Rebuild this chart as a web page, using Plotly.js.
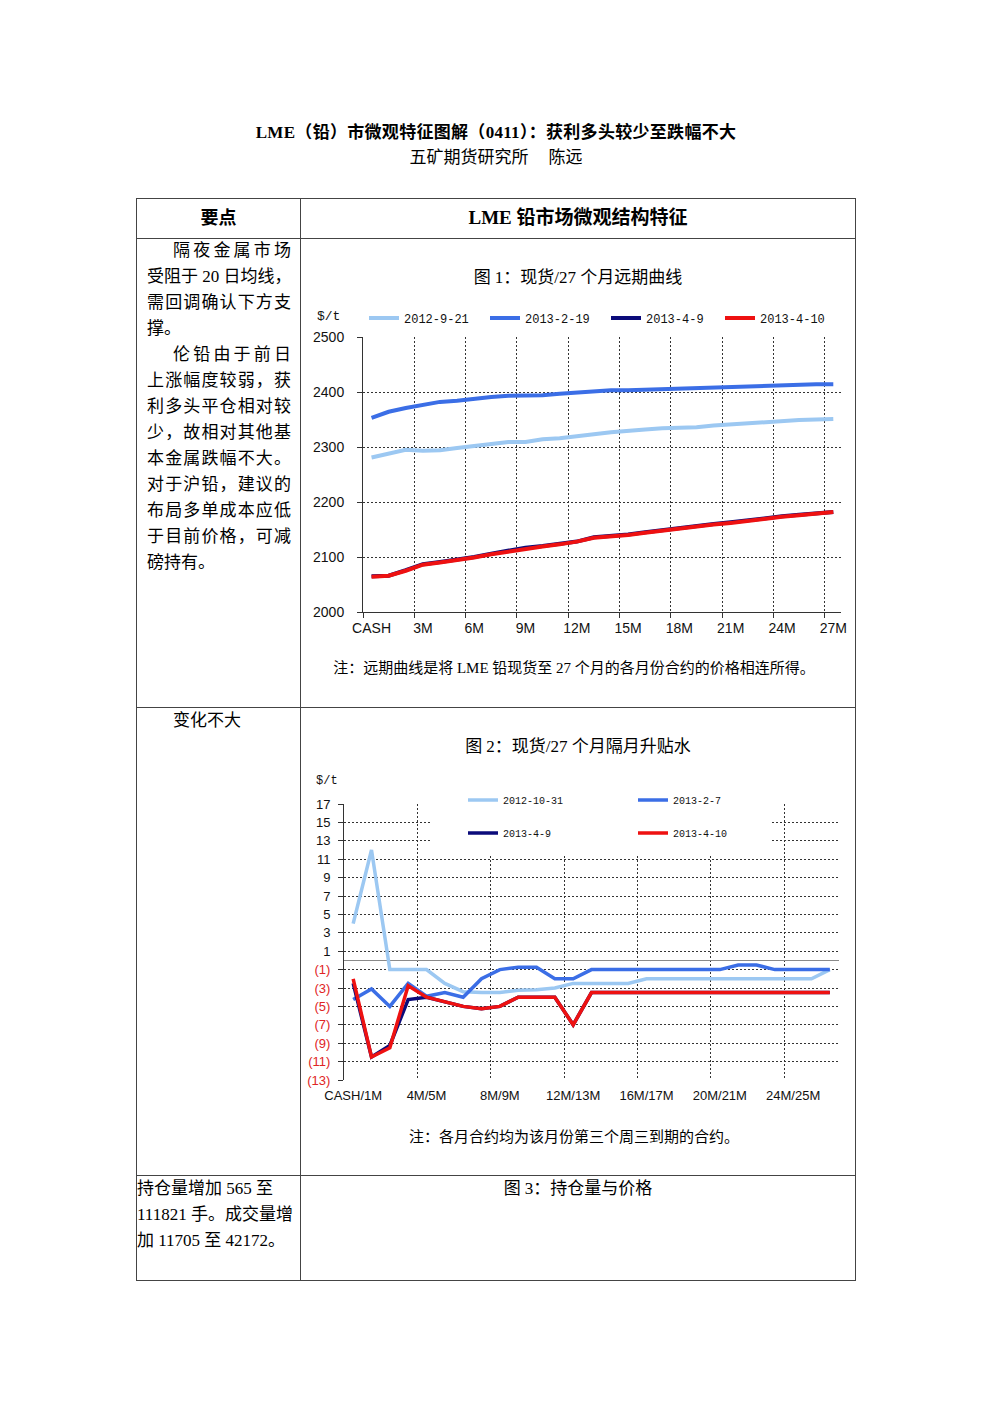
<!DOCTYPE html>
<html>
<head>
<meta charset="utf-8">
<script src="https://cdn.plot.ly/plotly-3.0.1.min.js"></script>
<style>
  body { margin: 0; background: #fff; }
  #page { position: relative; width: 992px; height: 1403px; overflow: hidden;
          font-family: "Liberation Serif", "Noto Sans CJK SC", serif; color: #000; }
  .t { position: absolute; white-space: nowrap; }
  .c { text-align: center; }
  .hl { position: absolute; height: 1px; background: #444; }
  .vl { position: absolute; width: 1px; background: #444; }
  .body17 { font-size: 17px; line-height: 26px; }
  .j { text-align: justify; text-align-last: justify; }
  .chart { position: absolute; }
</style>
</head>
<body>
<div id="page">
  <!-- heading -->
  <div class="t c" style="left:0;width:992px;top:120px;line-height:26px;font-size:17px;font-weight:bold;letter-spacing:0.3px;">LME（铅）市微观特征图解（0411）：获利多头较少至跌幅不大</div>
  <div class="t c" style="left:0;width:992px;top:145px;line-height:26px;font-size:17px;">五矿期货研究所<span style="display:inline-block;width:20px;"></span>陈远</div>

  <!-- table frame -->
  <div class="hl" style="left:136px;width:720px;top:198px;"></div>
  <div class="hl" style="left:136px;width:720px;top:238px;"></div>
  <div class="hl" style="left:136px;width:720px;top:707px;"></div>
  <div class="hl" style="left:136px;width:720px;top:1175px;"></div>
  <div class="hl" style="left:136px;width:720px;top:1280px;"></div>
  <div class="vl" style="left:136px;height:1083px;top:198px;"></div>
  <div class="vl" style="left:300px;height:1083px;top:198px;"></div>
  <div class="vl" style="left:855px;height:1083px;top:198px;"></div>

  <!-- header row -->
  <div class="t c" style="left:137px;width:163px;top:204px;line-height:28px;font-size:18px;font-weight:bold;">要点</div>
  <div class="t c" style="left:301px;width:554px;top:204px;line-height:28px;font-size:19px;font-weight:bold;">LME 铅市场微观结构特征</div>

  <!-- key points, row 1 -->
  <div id="notes1"></div>

  <!-- row 2 / row 3 left -->
  <div class="t body17" style="left:173px;top:708px;">变化不大</div>
  <div class="t body17" style="left:137px;top:1176px;">持仓量增加 565 至</div>
  <div class="t body17" style="left:137px;top:1202px;">111821 手。成交量增</div>
  <div class="t body17" style="left:137px;top:1228px;">加 11705 至 42172。</div>

  <!-- chart captions -->
  <div class="t c" style="left:301px;width:554px;top:265px;line-height:26px;font-size:17px;">图 1：现货/27 个月远期曲线</div>
  <div class="t c" style="left:301px;width:546px;top:656px;line-height:24px;font-size:15px;">注：远期曲线是将 LME 铅现货至 27 个月的各月份合约的价格相连所得。</div>
  <div class="t c" style="left:301px;width:554px;top:734px;line-height:26px;font-size:17px;">图 2：现货/27 个月隔月升贴水</div>
  <div class="t c" style="left:301px;width:546px;top:1125px;line-height:24px;font-size:15px;">注：各月合约均为该月份第三个周三到期的合约。</div>
  <div class="t c" style="left:301px;width:554px;top:1176px;line-height:26px;font-size:17px;">图 3：持仓量与价格</div>

  <div id="chart1" class="chart" style="left:300px;top:290px;width:555px;height:370px;"></div>
  <div id="chart2" class="chart" style="left:300px;top:760px;width:555px;height:360px;"></div>
</div>

<script>
// ---- left-column commentary, one entry per printed line ----
const commentLines = [
  ['隔夜金属市场', 173, true],
  ['受阻于 20 日均线，', 147, true],
  ['需回调确认下方支', 147, true],
  ['撑。', 147, false],
  ['伦铅由于前日', 173, true],
  ['上涨幅度较弱，获', 147, true],
  ['利多头平仓相对较', 147, true],
  ['少，故相对其他基', 147, true],
  ['本金属跌幅不大。', 147, true],
  ['对于沪铅，建议的', 147, true],
  ['布局多单成本应低', 147, true],
  ['于目前价格，可减', 147, true],
  ['磅持有。', 147, false]
];
(function () {
  const host = document.getElementById('notes1');
  commentLines.forEach(function (ln, k) {
    const d = document.createElement('div');
    d.className = 't body17' + (ln[2] ? ' j' : '');
    d.style.left = ln[1] + 'px';
    d.style.top = (238 + 26 * k) + 'px';
    if (ln[2]) d.style.width = (291 - ln[1]) + 'px';
    d.textContent = ln[0];
    host.appendChild(d);
  });
})();

// ---- Figure 1: forward curves, cash to 27 months ($/t) ----
const tenors = ['CASH','1M','2M','3M','4M','5M','6M','7M','8M','9M','10M','11M','12M','13M',
                '14M','15M','16M','17M','18M','19M','20M','21M','22M','23M','24M','25M','26M','27M'];
const curve_2012_09_21 = [2281,2288,2295,2293,2294,2298,2302,2305,2309,2309,2314,2316,2319,2323,
                          2327,2330,2332,2334,2335,2336,2339,2341,2343,2345,2348,2349,2350,2351];
const curve_2013_02_19 = [2353,2364,2371,2377,2382,2384,2388,2391,2393,2394,2394,2397,2399,2401,
                          2403,2403,2404,2405,2406,2407,2408,2410,2411,2411,2412,2414,2414,2414];
const curve_2013_04_09 = [2065,2066,2076,2087,2091,2095,2100,2106,2112,2117,2120,2124,2128,2136,
                          2138,2141,2145,2149,2152,2156,2160,2163,2167,2171,2174,2177,2180,2182];
const curve_2013_04_10 = [2064,2066,2075,2086,2090,2094,2099,2105,2110,2115,2119,2123,2128,2135,
                          2137,2140,2144,2148,2152,2155,2159,2162,2166,2170,2173,2176,2179,2182];

// ---- Figure 2: month-to-month spreads ($/t) ----
const spreads = ['CASH/1M','1M/2M','2M/3M','3M/4M','4M/5M','5M/6M','6M/7M','7M/8M','8M/9M','9M/10M',
                 '10M/11M','11M/12M','12M/13M','13M/14M','14M/15M','15M/16M','16M/17M','17M/18M',
                 '18M/19M','19M/20M','20M/21M','21M/22M','22M/23M','23M/24M','24M/25M','25M/26M','26M/27M'];
const spread_2012_10_31 = [4,12,-1,-1,-1,-2.5,-3.4,-3.5,-3.5,-3.25,-3.2,-3,-2.5,-2.5,
                           -2.5,-2.5,-2,-2,-2,-2,-2,-2,-2,-2,-2,-2,-1];
const spread_2013_02_07 = [-4.25,-3.1,-5,-2.5,-3.9,-3.5,-4,-2,-1,-0.75,-0.75,-2,-2,-1,
                           -1,-1,-1,-1,-1,-1,-1,-0.5,-0.5,-1,-1,-1,-1];
const spread_2013_04_09 = [-2.5,-10.5,-9.25,-4.25,-4,-4.5,-5,-5.25,-5,-4,-4,-4,-7,-3.5,
                           -3.5,-3.5,-3.5,-3.5,-3.5,-3.5,-3.5,-3.5,-3.5,-3.5,-3.5,-3.5,-3.5];
const spread_2013_04_10 = [-2,-10.5,-9.5,-2.75,-4,-4.5,-5,-5.25,-5,-4,-4,-4,-7,-3.5,
                           -3.5,-3.5,-3.5,-3.5,-3.5,-3.5,-3.5,-3.5,-3.5,-3.5,-3.5,-3.5,-3.5];
const spreadTickVals = [-13,-11,-9,-7,-5,-3,-1,1,3,5,7,9,11,13,15,17];
const spreadTickText = ['(13)','(11)','(9)','(7)','(5)','(3)','(1)','1','3','5','7','9','11','13','15','17'];

const C_LIGHT = '#9cc8f2', C_BLUE = '#3b6ee6', C_NAVY = '#0b0b7a', C_RED = '#ee1111';
const GRID = '#333333';
const tickFont = { family: 'Liberation Sans, Arial, sans-serif', size: 14, color: '#111' };

// pixel (page) -> paper fraction for a chart box
function mk(box) {
  const pw = box.w - box.m.l - box.m.r, ph = box.h - box.m.t - box.m.b;
  return {
    px: function (x) { return (x - box.left - box.m.l) / pw; },
    py: function (y) { return 1 - (y - box.top - box.m.t) / ph; }
  };
}
function legendAt(x, y, size) {
  return { x: x, y: y, xanchor: 'left', yanchor: 'middle', orientation: 'h',
           bgcolor: 'rgba(0,0,0,0)', borderwidth: 0, itemclick: false,
           font: { family: 'Liberation Mono, DejaVu Sans Mono, monospace', size: size, color: '#111' } };
}

// ---- chart 1 ----
(function () {
  const box = { left: 300, top: 290, w: 555, h: 370, m: { l: 63, r: 14, t: 47, b: 48 } };
  const P = mk(box);
  const series = [
    ['2012-9-21', curve_2012_09_21, C_LIGHT, 'legend'],
    ['2013-2-19', curve_2013_02_19, C_BLUE, 'legend2'],
    ['2013-4-9', curve_2013_04_09, C_NAVY, 'legend3'],
    ['2013-4-10', curve_2013_04_10, C_RED, 'legend4']
  ];
  const traces = series.map(function (s) {
    return { type: 'scatter', mode: 'lines', name: s[0], x: tenors, y: s[1],
             line: { color: s[2], width: 4 }, legend: s[3] };
  });
  const layout = {
    width: box.w, height: box.h, margin: Object.assign({ autoexpand: false }, box.m),
    paper_bgcolor: 'rgba(0,0,0,0)', plot_bgcolor: 'rgba(0,0,0,0)',
    showlegend: true,
    legend: legendAt(P.px(364), P.py(318), 12),
    legend2: legendAt(P.px(485), P.py(318), 12),
    legend3: legendAt(P.px(606), P.py(318), 12),
    legend4: legendAt(P.px(720), P.py(318), 12),
    xaxis: { type: 'category', categoryorder: 'array', categoryarray: tenors,
             range: [-0.5, 27.45], tickmode: 'linear', tick0: 0, dtick: 3, tickson: 'boundaries',
             tickangle: 0, automargin: false,
             showgrid: true, gridcolor: GRID, gridwidth: 1, griddash: '2px,2px',
             showline: true, linecolor: GRID, linewidth: 1,
             ticks: 'outside', ticklen: 5, tickcolor: GRID, ticklabelstandoff: 3,
             tickfont: tickFont, zeroline: false, fixedrange: true },
    yaxis: { range: [2000, 2500], tickmode: 'linear', tick0: 2000, dtick: 100,
             automargin: false,
             showgrid: true, gridcolor: GRID, gridwidth: 1, griddash: '2px,2px',
             showline: true, linecolor: GRID, linewidth: 1,
             ticks: 'outside', ticklen: 5, tickcolor: GRID, ticklabelstandoff: 10,
             tickfont: tickFont, zeroline: false, fixedrange: true },
    annotations: [{ xref: 'paper', yref: 'paper', x: P.px(328), y: P.py(317),
                    xanchor: 'center', yanchor: 'middle', showarrow: false, text: '$/t',
                    font: { family: 'Liberation Mono, DejaVu Sans Mono, monospace', size: 13, color: '#111' } }]
  };
  Plotly.newPlot('chart1', traces, layout, { staticPlot: true, displayModeBar: false });
})();

// ---- chart 2 ----
(function () {
  const box = { left: 300, top: 760, w: 555, h: 360, m: { l: 44, r: 16, t: 44, b: 40 } };
  const P = mk(box);
  const series = [
    ['2012-10-31', spread_2012_10_31, C_LIGHT, 'legend'],
    ['2013-2-7', spread_2013_02_07, C_BLUE, 'legend2'],
    ['2013-4-9', spread_2013_04_09, C_NAVY, 'legend3'],
    ['2013-4-10', spread_2013_04_10, C_RED, 'legend4']
  ];
  const traces = series.map(function (s) {
    return { type: 'scatter', mode: 'lines', name: s[0], x: spreads, y: s[1],
             line: { color: s[2], width: 3.5 }, legend: s[3] };
  });
  const tickText = spreadTickText.map(function (t) {
    return t.charAt(0) === '(' ? '<span style="color:#e02424">' + t + '</span>' : t;
  });
  const f13 = Object.assign({}, tickFont, { size: 13 });
  const layout = {
    width: box.w, height: box.h, margin: Object.assign({ autoexpand: false }, box.m),
    paper_bgcolor: 'rgba(0,0,0,0)', plot_bgcolor: 'rgba(0,0,0,0)',
    showlegend: true,
    legend: legendAt(P.px(463), P.py(800), 10),
    legend2: legendAt(P.px(633), P.py(800), 10),
    legend3: legendAt(P.px(463), P.py(833), 10),
    legend4: legendAt(P.px(633), P.py(833), 10),
    xaxis: { type: 'category', categoryorder: 'array', categoryarray: spreads,
             range: [-0.5, 26.5], tickmode: 'linear', tick0: 0, dtick: 4, tickson: 'boundaries',
             tickangle: 0, automargin: false,
             showgrid: true, gridcolor: GRID, gridwidth: 1, griddash: '2px,2px',
             showline: false, ticks: '', ticklabelstandoff: 6,
             tickfont: f13, zeroline: false, fixedrange: true },
    yaxis: { range: [-13, 17], tickmode: 'array', tickvals: spreadTickVals, ticktext: tickText,
             automargin: false,
             showgrid: true, gridcolor: GRID, gridwidth: 1, griddash: '2px,2px',
             showline: true, linecolor: GRID, linewidth: 1,
             ticks: 'outside', ticklen: 5, tickcolor: GRID, ticklabelstandoff: 5,
             tickfont: f13, zeroline: true, zerolinecolor: '#8a8a8a', zerolinewidth: 1.6,
             fixedrange: true },
    shapes: [{ type: 'rect', xref: 'paper', yref: 'paper', layer: 'above',
               x0: P.px(431), x1: P.px(772), y0: P.py(854), y1: P.py(796),
               fillcolor: '#ffffff', line: { width: 0 } }],
    annotations: [{ xref: 'paper', yref: 'paper', x: P.px(327), y: P.py(781),
                    xanchor: 'center', yanchor: 'middle', showarrow: false, text: '$/t',
                    font: { family: 'Liberation Mono, DejaVu Sans Mono, monospace', size: 12, color: '#111' } }]
  };
  Plotly.newPlot('chart2', traces, layout, { staticPlot: true, displayModeBar: false });
})();
</script>
</body>
</html>
